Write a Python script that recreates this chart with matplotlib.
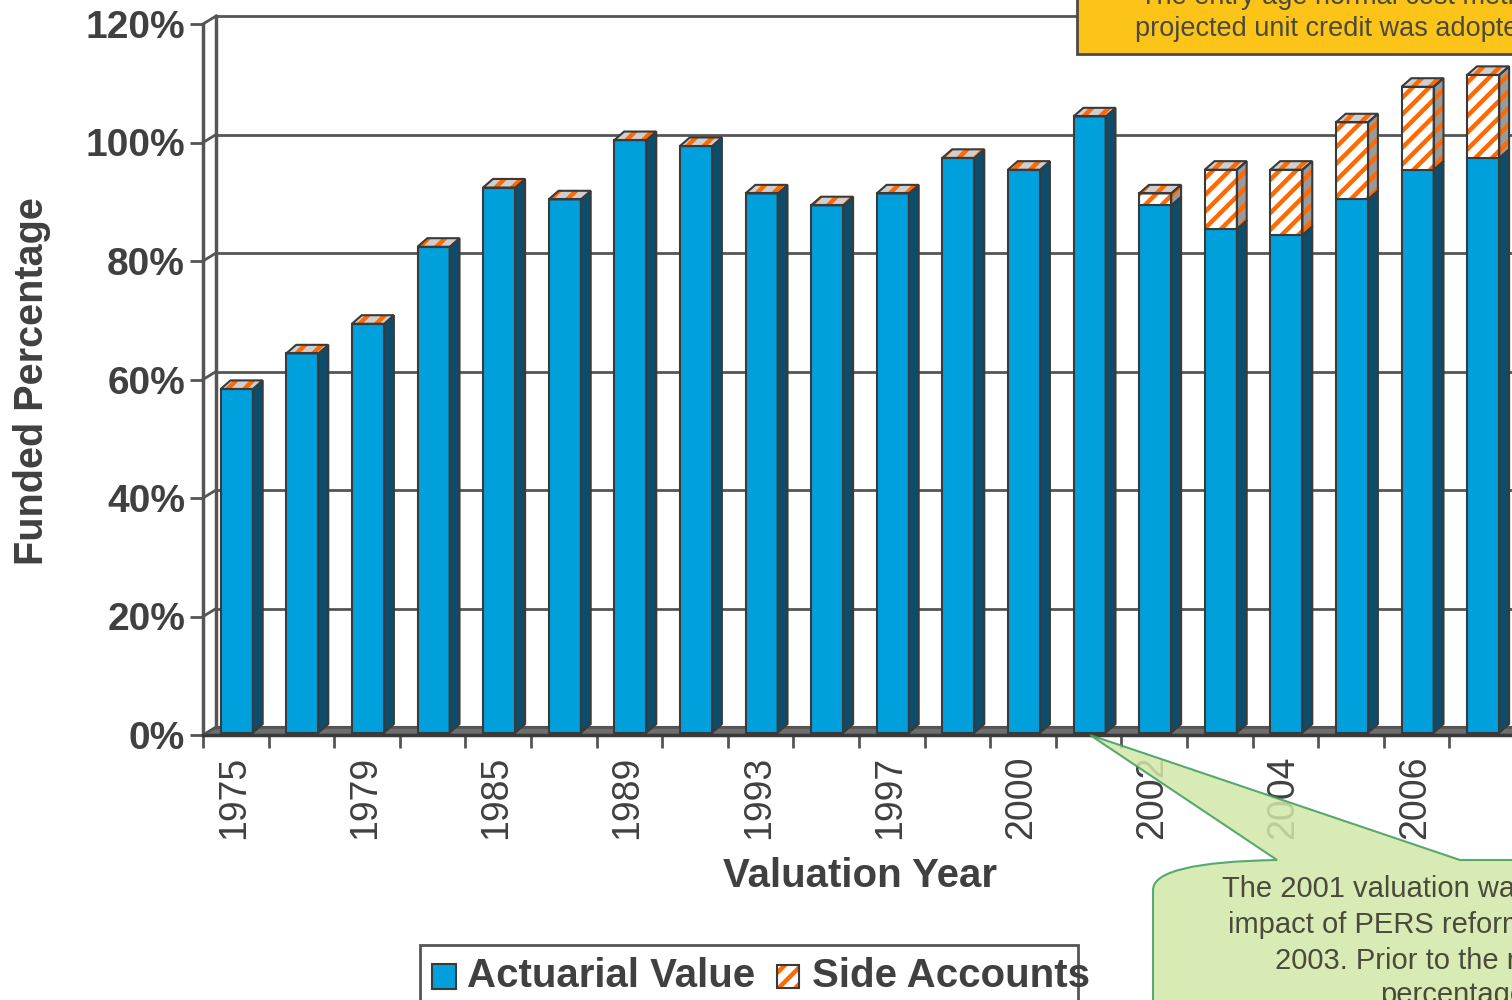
import matplotlib
matplotlib.use("Agg")
import matplotlib.pyplot as plt
from matplotlib.patches import Polygon, Rectangle, PathPatch
from matplotlib.path import Path

# data
years = ['1975', '1977', '1979', '1981', '1985', '1987', '1989', '1991', '1993', '1995',
         '1997', '1999', '2000', '2001', '2002', '2003', '2004', '2005', '2006', '2007']
actuarial = [58, 64, 69, 82, 92, 90, 100, 99, 91, 89, 91, 97, 95, 104, 89, 85, 84, 90, 95, 97]
side_accounts = [0, 0, 0, 0, 0, 0, 0, 0, 0, 0, 0, 0, 0, 0, 2, 10, 11, 13, 14, 14]
y_ticks = [0, 20, 40, 60, 80, 100, 120]

plt.rcParams['font.family'] = ['Liberation Sans', 'DejaVu Sans']
plt.rcParams['hatch.linewidth'] = 3.2

W, H = 1512, 1000
TXT = '#404040'
NOTE_TXT = '#4a4a3a'
BLUE = '#00a0dc'
BLUE_SIDE = '#0d4d6b'
ORANGE = '#ff6a00'
EDGE = '#3a3a3a'
GRID = '#555555'


def fx(px):
    return px / W


def fy(py):
    return 1 - py / H


fig = plt.figure(figsize=(W / 100, H / 100), dpi=100)
n = len(years)
ax = fig.add_axes([fx(203), fy(735), 1312 / W, 711 / H])
ax.set_xlim(0, n)
ax.set_ylim(0, 120)
for s in ax.spines.values():
    s.set_visible(False)

# 3d wall / floor
DX, DY = 0.2, 1.35
ax.add_patch(Polygon([(0, 0), (n + 1, 0), (n + 1 + DX, DY), (DX, DY)],
                     closed=True, fc='#6e6e6e', ec=EDGE, lw=1.5, clip_on=False, zorder=1))
for v in y_ticks:
    ax.plot([DX, n + 1], [v + DY, v + DY], color=GRID, lw=2, clip_on=False, zorder=1)
    ax.plot([0, DX], [v, v + DY], color=GRID, lw=2, clip_on=False, zorder=1)
ax.plot([DX, DX], [DY, 120 + DY], color=GRID, lw=2.5, clip_on=False, zorder=1)
ax.plot([0, 0], [0, 120], color=GRID, lw=2.5, clip_on=False, zorder=6)
ax.plot([0, n + 1], [0, 0], color=EDGE, lw=2.5, clip_on=False, zorder=6)

# bars
B = 0.4
bw = 0.49
bx, by = 0.15, 1.45
lefts = [i + 0.27 for i in range(n)]
totals = [a + s for a, s in zip(actuarial, side_accounts)]
ax.bar(lefts, actuarial, width=bw, bottom=B, align='edge', color=BLUE,
       edgecolor=EDGE, lw=1.5, zorder=3, clip_on=False)
ax.bar(lefts, side_accounts, width=bw, bottom=[B + a for a in actuarial], align='edge',
       color='white', edgecolor=ORANGE, hatch='//', lw=0, zorder=3, clip_on=False)
ax.bar(lefts, side_accounts, width=bw, bottom=[B + a for a in actuarial], align='edge',
       fill=False, edgecolor=EDGE, lw=1.5, zorder=4, clip_on=False)

for x0, a, t in zip(lefts, actuarial, totals):
    x1 = x0 + bw
    side_blue = [(x1, B), (x1 + bx, B + by), (x1 + bx, B + a + by), (x1, B + a)]
    ax.add_patch(Polygon(side_blue, fc=BLUE_SIDE, ec=EDGE, lw=1.5, zorder=3, clip_on=False))
    if t > a:
        side_h = [(x1, B + a), (x1 + bx, B + a + by), (x1 + bx, B + t + by), (x1, B + t)]
        ax.add_patch(Polygon(side_h, fc='#9a9a9a', ec=ORANGE, hatch='//', lw=0, zorder=3, clip_on=False))
        ax.add_patch(Polygon(side_h, fill=False, ec=EDGE, lw=1.5, zorder=4, clip_on=False))
    top = [(x0, B + t), (x1, B + t), (x1 + bx, B + t + by), (x0 + bx, B + t + by)]
    ax.add_patch(Polygon(top, fc='#cfcfcf', ec=ORANGE, hatch='//', lw=0, zorder=3, clip_on=False))
    ax.add_patch(Polygon(top, fill=False, ec=EDGE, lw=1.5, zorder=4, clip_on=False))

# ticks
ax.set_xticks([i + 0.47 for i in range(n)])
ax.set_xticklabels([y if i % 2 == 0 else '' for i, y in enumerate(years)],
                   rotation=90, fontsize=27, color=TXT)
ax.set_xticks(range(n + 1), minor=True)
ax.tick_params(axis='x', which='major', length=0, pad=15)
ax.tick_params(axis='x', which='minor', length=9.4, width=2, color=GRID, direction='out')
ax.set_yticks(y_ticks)
ax.set_yticklabels([f'{v}%' for v in y_ticks], fontsize=28, fontweight='bold', color=TXT)
ax.tick_params(axis='y', length=9.4, width=2, color=GRID, pad=3.5)

fig.text(fx(32), fy(381), 'Funded Percentage', rotation=90, ha='center', va='center',
         fontsize=28.5, fontweight='bold', color=TXT)
fig.text(fx(860), fy(876), 'Valuation Year', ha='center', va='center',
         fontsize=29, fontweight='bold', color=TXT)

# legend
fig.patches.append(Rectangle((fx(420), fy(1020)), (1078 - 420) / W, 75 / H,
                             transform=fig.transFigure, fc='white', ec='#555555', lw=2))
fig.patches.append(Rectangle((fx(432), fy(989)), 24 / W, 25 / H, transform=fig.transFigure,
                             fc=BLUE, ec=EDGE, lw=1.5))
fig.text(fx(467), fy(976), 'Actuarial Value', ha='left', va='center',
         fontsize=29, fontweight='bold', color=TXT)
fig.patches.append(Rectangle((fx(777), fy(988)), 22 / W, 23 / H, transform=fig.transFigure,
                             fc='white', ec=ORANGE, hatch='//', lw=0))
fig.patches.append(Rectangle((fx(777), fy(988)), 22 / W, 23 / H, transform=fig.transFigure,
                             fill=False, ec=EDGE, lw=1.5))
fig.text(fx(812), fy(976), 'Side Accounts', ha='left', va='center',
         fontsize=29, fontweight='bold', color=TXT)

# yellow note (cropped at the top right, as in the source)
fig.patches.append(Rectangle((fx(1077), fy(54)), 600 / W, 90 / H, transform=fig.transFigure,
                             fc='#fcc419', ec='#4a4a4a', lw=2, zorder=8))
fig.text(fx(1140), fy(-3), 'The entry age normal cost method', ha='left', va='center',
         fontsize=19.5, color=NOTE_TXT, zorder=9)
fig.text(fx(1135), fy(29), 'projected unit credit was adopted', ha='left', va='center',
         fontsize=19.5, color=NOTE_TXT, zorder=9)

# green callout pointing at the 2001 bar
verts = [(1090, 735), (1460, 860), (1600, 860), (1600, 1050), (1153, 1050),
         (1153, 890), (1153, 862), (1277, 860), (1090, 735)]
codes = [Path.MOVETO, Path.LINETO, Path.LINETO, Path.LINETO, Path.LINETO,
         Path.LINETO, Path.CURVE3, Path.CURVE3, Path.CLOSEPOLY]
callout = Path([(fx(x), fy(y)) for x, y in verts], codes)
fig.patches.append(PathPatch(callout, transform=fig.transFigure, fc='#d3e8a8', alpha=0.85,
                             ec='#3c9c5c', lw=1.5, zorder=8))
note_lines = [('The 2001 valuation was', 1222, 889),
              ('impact of PERS reform', 1228, 925),
              ('2003. Prior to the re', 1275, 961),
              ('percentage', 1380, 995)]
for txt, x, y in note_lines:
    fig.text(fx(x), fy(y), txt, ha='left', va='center', fontsize=21, color=NOTE_TXT, zorder=9)

fig.savefig('out.png', dpi=100)
